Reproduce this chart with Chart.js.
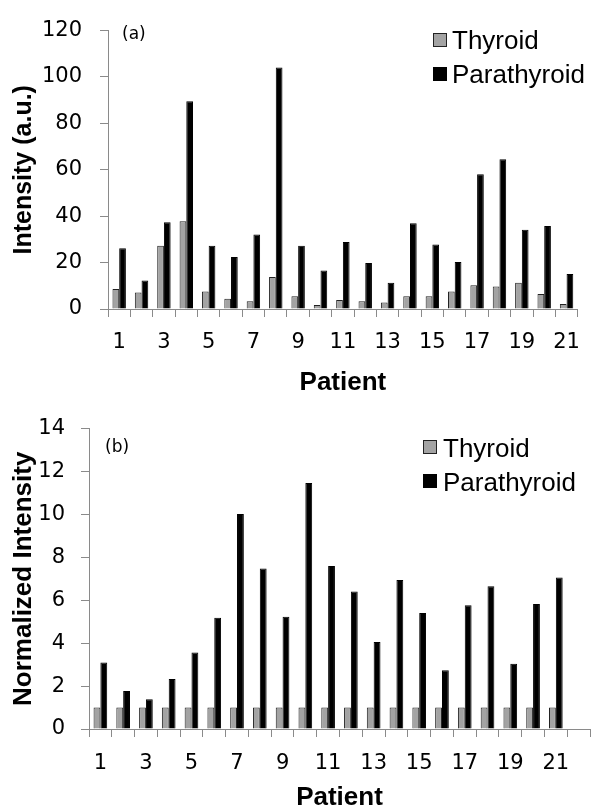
<!DOCTYPE html>
<html>
<head>
<meta charset="utf-8">
<script src="https://cdn.jsdelivr.net/npm/chart.js@4.4.1/dist/chart.umd.min.js"></script>
<style>
    html, body { margin: 0; padding: 0; background: #fff; overflow: hidden; }
    #wrapA { position: absolute; left: 0; top: 0; }
    #wrapB { position: absolute; left: 0; top: 400px; }
</style>
</head>
<body>
<div id="wrapA"><canvas id="chartA" width="593" height="400"></canvas></div>
<div id="wrapB"><canvas id="chartB" width="593" height="415"></canvas></div>
<script>
//############################ Data ############################
const patients = ['1', '2', '3', '4', '5', '6', '7', '8', '9', '10', '11',
    '12', '13', '14', '15', '16', '17', '18', '19', '20', '21'];
// panel (b) has one extra empty slot on the axis
const patientSlots = [...patients, '22'];

const thyroidIntensity = [8.6, 7.1, 27.3, 37.8, 7.5, 4.4, 3.3, 13.8, 5.5, 1.7, 3.9,
    3.3, 2.8, 5.5, 5.5, 7.5, 10.2, 9.7, 11.3, 6.5, 2.2];
const parathyroidIntensity = [26.2, 12.3, 37.4, 89.6, 27.3, 22.4, 32.1, 104.1, 27.3, 16.6, 28.9,
    19.8, 11.3, 37.0, 27.8, 20.3, 58.1, 64.5, 34.2, 35.8, 15.1];

const thyroidNormalized = [1, 1, 1, 1, 1, 1, 1, 1, 1, 1, 1,
    1, 1, 1, 1, 1, 1, 1, 1, 1, 1, null];
const parathyroidNormalized = [3.1, 1.77, 1.39, 2.33, 3.56, 5.18, 10.02, 7.48, 5.23, 11.46, 7.6,
    6.41, 4.05, 6.94, 5.41, 2.74, 5.77, 6.65, 3.04, 5.83, 7.06, null];

const seriesNames = ['Thyroid', 'Parathyroid'];

//############################ Shared styling ############################
const AXIS_GREY = '#8a8a8a';
const TICK_FONT = { family: 'DejaVu Sans', size: 21 };
const TITLE_FONT = { family: 'Liberation Sans', size: 26, weight: 'bold', lineHeight: 1.2 };

// draws the panel letter and the in-plot legend
const panelDecor = {
    id: 'panelDecor',
    afterDraw(chart, args, opts) {
        const ctx = chart.ctx;
        ctx.save();
        ctx.fillStyle = '#000';
        ctx.font = '17px "DejaVu Sans"';
        ctx.textBaseline = 'middle';
        ctx.textAlign = 'left';
        ctx.fillText(opts.letter, opts.letterX, opts.letterY);

        ctx.font = '26px "Liberation Sans"';
        ctx.textBaseline = 'alphabetic';
        chart.data.datasets.forEach((ds, i) => {
            const boxTop = opts.boxTop + i * opts.rowStep;
            ctx.fillStyle = ds.backgroundColor;
            ctx.fillRect(opts.boxX, boxTop, 14, 14);
            ctx.strokeStyle = ds.borderColor;
            ctx.lineWidth = 1;
            ctx.strokeRect(opts.boxX + 0.5, boxTop + 0.5, 13, 13);
            ctx.fillStyle = '#000';
            ctx.fillText(ds.label, opts.textX, opts.baseline + i * opts.rowStep);
        });
        ctx.restore();
    }
};

const makeChart = (canvasId, labels, thyroid, parathyroid, cfg) => {
    return new Chart(document.getElementById(canvasId), {
        type: 'bar',
        data: {
            labels: labels,
            datasets: [
                {
                    label: seriesNames[0],
                    data: thyroid,
                    backgroundColor: '#a3a3a3',
                    borderColor: '#222222',
                    borderWidth: 1,
                },
                {
                    label: seriesNames[1],
                    data: parathyroid,
                    backgroundColor: '#000000',
                    borderColor: '#000000',
                    borderWidth: 1,
                },
            ],
        },
        options: {
            responsive: false,
            animation: false,
            devicePixelRatio: 1,
            layout: { padding: { top: cfg.top, right: 3, left: 0, bottom: 0 } },
            datasets: { bar: { categoryPercentage: 0.6, barPercentage: 1.0 } },
            plugins: {
                legend: { display: false },
                tooltip: { enabled: false },
                panelDecor: cfg.decor,
            },
            scales: {
                x: {
                    afterFit: (scale) => { scale.height = cfg.xHeight; },
                    grid: { drawOnChartArea: false, color: AXIS_GREY, tickLength: 8 },
                    border: { color: AXIS_GREY, width: 1 },
                    ticks: {
                        autoSkip: false,
                        maxRotation: 0,
                        padding: cfg.xPad,
                        color: '#000',
                        font: TICK_FONT,
                        callback: function (val, i) {
                            return i % 2 === 0 ? this.getLabelForValue(val) : '';
                        },
                    },
                    title: {
                        display: true,
                        text: 'Patient',
                        color: '#000',
                        font: TITLE_FONT,
                        padding: { top: 0, bottom: cfg.xTitlePad },
                    },
                },
                y: {
                    min: 0,
                    max: cfg.yMax,
                    afterFit: (scale) => { scale.width = cfg.yWidth; },
                    grid: { drawOnChartArea: false, color: AXIS_GREY, tickLength: 8 },
                    border: { color: AXIS_GREY, width: 1 },
                    ticks: {
                        stepSize: cfg.yStep,
                        padding: cfg.yPad,
                        color: '#000',
                        font: TICK_FONT,
                    },
                    title: {
                        display: true,
                        text: cfg.yTitle,
                        color: '#000',
                        font: Object.assign({}, TITLE_FONT, { size: cfg.yTitleSize }),
                        padding: { top: cfg.yTitlePad, bottom: 0 },
                    },
                },
            },
        },
        plugins: [panelDecor],
    });
};

//############################ Build both panels ############################
window.onload = function () {
    makeChart('chartA', patients, thyroidIntensity, parathyroidIntensity, {
        top: 20, xHeight: 91, yWidth: 108, xPad: 13, xTitlePad: 2,
        yMax: 120, yStep: 20, yPad: 18, yTitle: 'Intensity (a.u.)', yTitleSize: 25, yTitlePad: 9,
        decor: { letter: '(a)', letterX: 122, letterY: 35,
                 boxX: 433, boxTop: 33, textX: 452, baseline: 49, rowStep: 34 },
    });

    makeChart('chartB', patientSlots, thyroidNormalized, parathyroidNormalized, {
        top: 27, xHeight: 86, yWidth: 89, xPad: 14, xTitlePad: 2,
        yMax: 14, yStep: 2, yPad: 16, yTitle: 'Normalized Intensity', yTitleSize: 26, yTitlePad: 8,
        decor: { letter: '(b)', letterX: 105, letterY: 48,
                 boxX: 423, boxTop: 40, textX: 443, baseline: 57, rowStep: 34 },
    });
};
</script>
</body>
</html>
